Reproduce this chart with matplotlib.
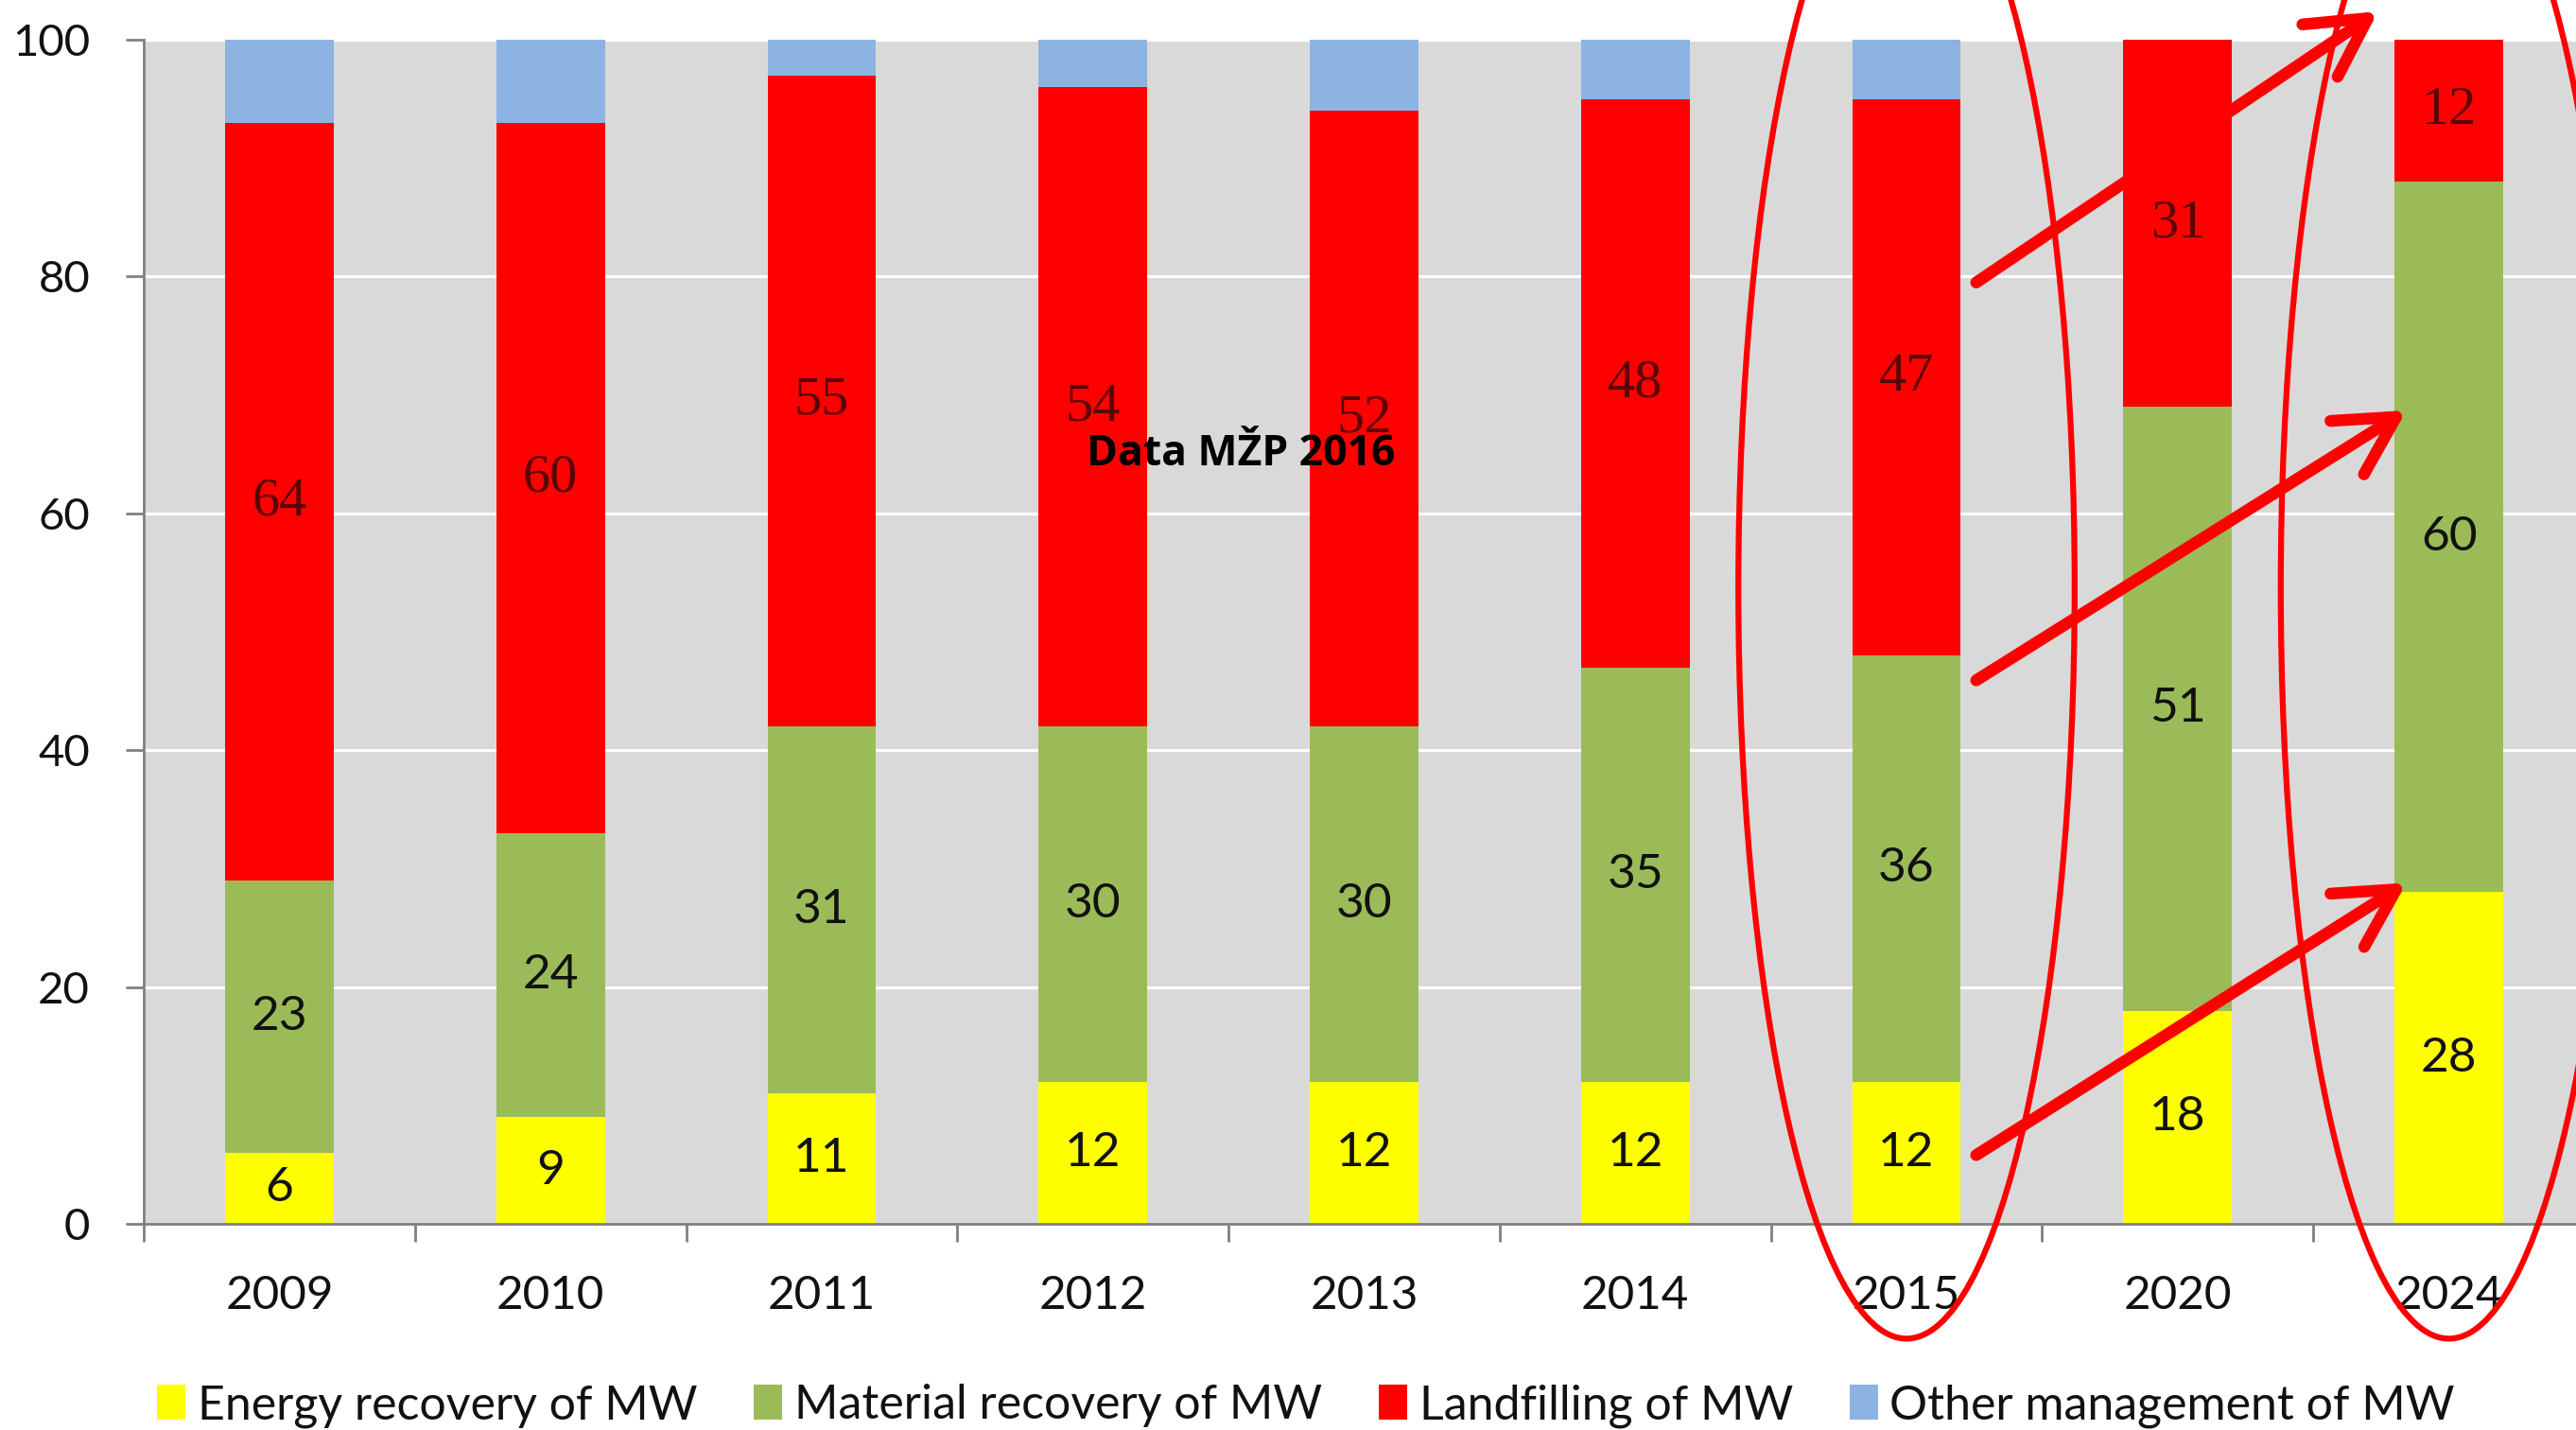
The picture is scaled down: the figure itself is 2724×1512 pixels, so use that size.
import matplotlib
matplotlib.use("Agg")
import matplotlib.pyplot as plt
from matplotlib.patches import Ellipse, Patch
from matplotlib.font_manager import FontProperties
import numpy as np

years = ['2009', '2010', '2011', '2012', '2013', '2014', '2015', '2020', '2024']
energy = [6, 9, 11, 12, 12, 12, 12, 18, 28]
material = [23, 24, 31, 30, 30, 35, 36, 51, 60]
landfill = [64, 60, 55, 54, 52, 48, 47, 31, 12]
other = [7, 7, 3, 4, 6, 5, 5, 0, 0]
series_names = ['Energy recovery of MW', 'Material recovery of MW',
                'Landfilling of MW', 'Other management of MW']
yticks = [0, 20, 40, 60, 80, 100]

colors = ['#ffff00', '#9bbb59', '#ff0000', '#8db3e2']

main_font = 'Lato'
serif = 'Liberation Serif'
bold_font = 'Open Sans'


def fp(size):
    return FontProperties(family=[main_font, 'DejaVu Sans'], size=size)


fig = plt.figure(figsize=(27.24, 15.12), dpi=100)
ax = fig.add_axes([0.0558, 0.1442, 0.9475, 0.828])
ax.set_facecolor('#d9d9d9')

x = np.arange(len(years))
w = 0.40
series = [energy, material, landfill, other]
bottom = np.zeros(len(years))
for vals, col in zip(series, colors):
    ax.bar(x, vals, w, bottom=bottom, color=col, zorder=2, linewidth=0)
    bottom += np.array(vals)

# data labels
bottom = np.zeros(len(years))
for si, vals in enumerate(series[:3]):
    for i, v in enumerate(vals):
        yc = bottom[i] + v / 2
        if si == 2:
            ax.text(x[i], yc, str(v), ha='center', va='center', fontsize=42,
                    family=serif, color='#5a0505', zorder=3)
        else:
            ax.text(x[i], yc, str(v), ha='center', va='center',
                    fontproperties=fp(37), color='#111111', zorder=3)
    bottom += np.array(vals)

ax.set_xlim(-0.5, len(years) - 0.5)
ax.set_ylim(0, 100)
ax.set_yticks(yticks)
ax.set_yticklabels([str(t) for t in yticks], color='#111111')
for lab in ax.get_yticklabels():
    lab.set_fontproperties(fp(34))
ax.set_xticks(x)
ax.set_xticklabels(years, color='#111111')
for lab in ax.get_xticklabels():
    lab.set_fontproperties(fp(35.5))
ax.set_xticks(np.arange(-0.5, len(years), 1.0), minor=True)
ax.tick_params(axis='x', which='major', length=0, pad=39)
ax.tick_params(axis='x', which='minor', length=14, width=2, color='#808080')
ax.tick_params(axis='y', length=14, width=2, color='#808080', pad=27)

ax.grid(axis='y', color='white', linewidth=2.2, zorder=1)
ax.set_axisbelow(True)
for s in ['top', 'right']:
    ax.spines[s].set_visible(False)
for s in ['left', 'bottom']:
    ax.spines[s].set_color('#808080')
    ax.spines[s].set_linewidth(2)
    ax.spines[s].set_zorder(4)

ax.text(3.545, 64.06, 'Data MŽP 2016', ha='center', va='baseline', fontsize=32,
        family=bold_font, fontweight='bold', color='black', zorder=5)

# ellipses
for xc in [6.0, 8.0]:
    e = Ellipse((xc, 53.7), 1.24, 126.8, fill=False, edgecolor='#ff0000',
                linewidth=4.5, transform=ax.transData, clip_on=False, zorder=6)
    ax.add_patch(e)

# arrows
arrows = [((6.257, 79.5), (7.739, 102.4)),
          ((6.257, 45.9), (7.844, 68.7)),
          ((6.257, 5.8), (7.844, 28.8))]
for (x0, y0), (x1, y1) in arrows:
    ax.annotate('', xy=(x1, y1), xytext=(x0, y0), annotation_clip=False,
                arrowprops=dict(arrowstyle='->,head_length=1.1,head_width=0.6',
                                mutation_scale=40, lw=9, color='#ff0000',
                                shrinkA=0, shrinkB=0, capstyle='round',
                                clip_on=False),
                zorder=7)

handles = [Patch(facecolor=c, edgecolor='none') for c in colors]
fig.legend(handles, series_names, loc='center', bbox_to_anchor=(0.507, 0.017),
           ncol=4, frameon=False, prop=fp(36),
           handlelength=0.6, handleheight=0.75, handletextpad=0.25,
           columnspacing=1.2, labelcolor='#111111')

fig.savefig('out.png', dpi=100, facecolor='white')
